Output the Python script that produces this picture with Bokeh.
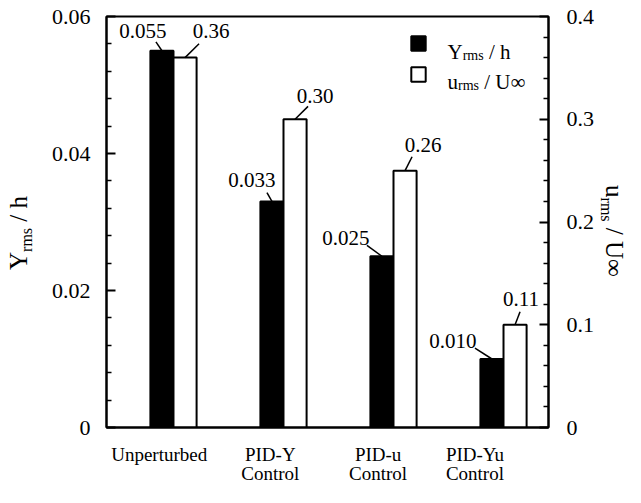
import math
from bokeh.plotting import figure
from bokeh.layouts import row
from bokeh.models import (Range1d, LinearAxis, FixedTicker, Label, Legend,
                          LegendItem, ColumnDataSource, Div)
from bokeh.core.properties import value
from bokeh.embed import file_html
from bokeh.resources import INLINE

# ---------------- data ----------------
categories = ["Unperturbed", "PID-Y\nControl", "PID-u\nControl", "PID-Yu\nControl"]
y_rms = [0.055, 0.033, 0.025, 0.010]          # left axis, Y_rms / h
u_rms = [0.36, 0.30, 0.25, 0.10]              # right axis, u_rms / U_inf (bar heights)
y_rms_labels = ["0.055", "0.033", "0.025", "0.010"]
u_rms_labels = ["0.36", "0.30", "0.26", "0.11"]
left_ticks = [0, 0.02, 0.04, 0.06]
left_tick_labels = ["0", "0.02", "0.04", "0.06"]
right_ticks = [0, 0.1, 0.2, 0.3, 0.4]
right_tick_labels = ["0", "0.1", "0.2", "0.3", "0.4"]

# ---------------- styling ----------------
FONT = "Liberation Serif"
TOTAL_W, H = 625, 487
LEFT_DIV_W, RIGHT_DIV_W = 40, 25
W = TOTAL_W - LEFT_DIV_W - RIGHT_DIV_W        # figure width
BL, BR, BT, BB = 66, 52, 16, 57
FW = W - BL - BR
FH = H - BT - BB
FRAME_BOTTOM = H - BB
X0, X1 = -0.609, 3.409
YL = (0, 0.06)
YR = (0, 0.4)
BAR_W = 0.21
cat_label_offset = [-0.13, -0.12, -0.14, -0.26]
# leader line (dx, dy) and text offset from the line end, in pixels (y down)
y_line_px = [(-6, -9), (-5, -9), (-15, -11), (-17, -11)]
y_text_px = [(-13, -11), (-15, -13), (-21, -7), (-22, -7)]
u_line_px = [(14, -14), (13, -13), (7, -14), (5, -13)]
u_text_px = [(12, -13), (7, -10), (11, -12), (1, -13)]

px_x = FW / (X1 - X0)
px_yl = FH / (YL[1] - YL[0])
px_yr = FH / (YR[1] - YR[0])

p = figure(width=W, height=H, x_range=Range1d(X0, X1), y_range=Range1d(*YL),
           output_backend="svg", toolbar_location=None,
           min_border_left=BL, min_border_right=BR, min_border_top=BT,
           min_border_bottom=BB, background_fill_color="white",
           border_fill_color="white")
p.extra_y_ranges = {"right": Range1d(*YR)}
p.xgrid.visible = False
p.ygrid.visible = False
p.outline_line_color = "black"
p.outline_line_width = 2


def style_axis(ax):
    ax.axis_line_width = 2
    ax.axis_line_color = "black"
    ax.major_tick_in = 9
    ax.major_tick_out = 0
    ax.minor_tick_in = 5
    ax.minor_tick_out = 0
    ax.major_tick_line_width = 2
    ax.minor_tick_line_width = 1.5
    ax.major_label_text_font = FONT
    ax.major_label_text_font_size = "22px"
    ax.major_label_text_color = "black"
    ax.major_label_standoff = 16


# left axis
ly = p.yaxis[0]
ly.ticker = FixedTicker(ticks=left_ticks,
                        minor_ticks=[k * 0.004 for k in range(1, 15) if k % 5])
ly.major_label_overrides = {t: s for t, s in zip(left_ticks, left_tick_labels)}
style_axis(ly)

# right axis
ry = LinearAxis(y_range_name="right")
ry.ticker = FixedTicker(ticks=right_ticks,
                        minor_ticks=[k * 0.02 for k in range(1, 20) if k % 5])
ry.major_label_overrides = {t: s for t, s in zip(right_ticks, right_tick_labels)}
style_axis(ry)
ry.major_label_standoff = 18
p.add_layout(ry, "right")

# bottom axis
bx = p.xaxis[0]
cat_ticks = [i + o for i, o in enumerate(cat_label_offset)]
bx.ticker = FixedTicker(ticks=cat_ticks)
bx.major_label_overrides = {t: c for t, c in zip(cat_ticks, categories)}
bx.axis_line_width = 2
bx.axis_line_color = "black"
bx.major_tick_line_color = None
bx.minor_tick_line_color = None
bx.major_label_text_font = FONT
bx.major_label_text_font_size = "19px"
bx.major_label_text_color = "black"
bx.major_label_text_line_height = 0.95
bx.major_label_standoff = 10

# bars
xb = [i - BAR_W / 2 for i in range(len(categories))]
xw = [i + BAR_W / 2 for i in range(len(categories))]
src = ColumnDataSource(dict(xb=xb, xw=xw, y=y_rms, u=u_rms))
rb = p.vbar(x="xb", top="y", bottom=0, width=BAR_W, source=src,
            fill_color="black", line_color="black", line_width=2)
rw = p.vbar(x="xw", top="u", bottom=0, width=BAR_W, source=src,
            fill_color="white", line_color="black", line_width=2,
            y_range_name="right")


# value labels with leader lines
def leader(xs, ys, labels, line_px, text_px, pyu, rng):
    x1 = [x + d[0] / px_x for x, d in zip(xs, line_px)]
    y1 = [y - d[1] / pyu for y, d in zip(ys, line_px)]
    tx = [x + d[0] / px_x for x, d in zip(x1, text_px)]
    ty = [y - d[1] / pyu for y, d in zip(y1, text_px)]
    s = ColumnDataSource(dict(x0=xs, y0=ys, x1=x1, y1=y1, tx=tx, ty=ty, t=labels))
    kw = {} if rng is None else {"y_range_name": rng}
    p.segment(x0="x0", y0="y0", x1="x1", y1="y1", source=s,
              line_color="black", line_width=1.5, **kw)
    p.text(x="tx", y="ty", text="t", source=s, text_font=value(FONT),
           text_font_size="21px", text_align="center", text_baseline="middle",
           text_color="black", **kw)


leader(xb, y_rms, y_rms_labels, y_line_px, y_text_px, px_yl, None)
leader(xw, u_rms, u_rms_labels, u_line_px, u_text_px, px_yr, "right")

# legend (squares); positions in pixels from frame bottom-left
legend = Legend(items=[LegendItem(label=" ", renderers=[rb]),
                       LegendItem(label=" ", renderers=[rw])],
                location=(303, FRAME_BOTTOM - 86), glyph_width=18, glyph_height=18,
                spacing=13, padding=0, margin=0, border_line_color=None,
                background_fill_alpha=0, label_standoff=0, label_width=0,
                label_height=18, label_text_font_size="1px")
p.add_layout(legend)

# legend texts with subscripts (frame-relative screen coordinates)
WID = {'Y': 0.722, 'u': 0.5, 'r': 0.333, 'm': 0.778, 's': 0.389, ' ': 0.25,
       '/': 0.278, 'h': 0.5, 'U': 0.722, '∞': 0.713}


def composite(pieces, x0, y0):
    pos = 0.0
    for text, size, shift in pieces:
        lead = len(text) - len(text.lstrip(" "))
        pos += lead * WID[' '] * size
        t = text.strip(" ")
        p.add_layout(Label(x=x0 + pos, y=y0 - shift, x_units="screen",
                           y_units="screen", text=t, text_font=FONT,
                           text_font_size=f"{size}px", text_align="left",
                           text_baseline="alphabetic", text_color="black"))
        pos += sum(WID.get(c, 0.5) for c in t) * size


composite([("Y", 21, 0), ("rms", 14, 4), (" / h", 21, 0)], 341, FRAME_BOTTOM - 54)
composite([("u", 21, 0), ("rms", 14, 4), (" / U∞", 21, 0)], 341, FRAME_BOTTOM - 84)

# axis titles (HTML text with subscripts, rotated)
TSTYLE = ("position:absolute; white-space:nowrap; line-height:1; "
          "font-family:'Liberation Serif'; font-size:25px; color:black; ")
SUB = "<span style='font-size:16px; position:relative; top:5px'>rms</span>"
left_html = (f"<div style='position:relative; width:{LEFT_DIV_W}px; height:{H}px'>"
             f"<div style=\"{TSTYLE} left:18px; top:233px; "
             f"transform:translate(-50%,-50%) rotate(-90deg)\">Y{SUB} / h</div></div>")
right_html = (f"<div style='position:relative; width:{RIGHT_DIV_W}px; height:{H}px'>"
              f"<div style=\"{TSTYLE} left:14px; top:231px; "
              f"transform:translate(-50%,-50%) rotate(90deg)\">u{SUB} / U∞</div></div>")
div_l = Div(text=left_html, width=LEFT_DIV_W, height=H, margin=(0, 0, 0, 0))
div_r = Div(text=right_html, width=RIGHT_DIV_W, height=H, margin=(0, 0, 0, 0))

layout = row(div_l, p, div_r, spacing=0)
open("out.html", "w").write(file_html(layout, INLINE))
